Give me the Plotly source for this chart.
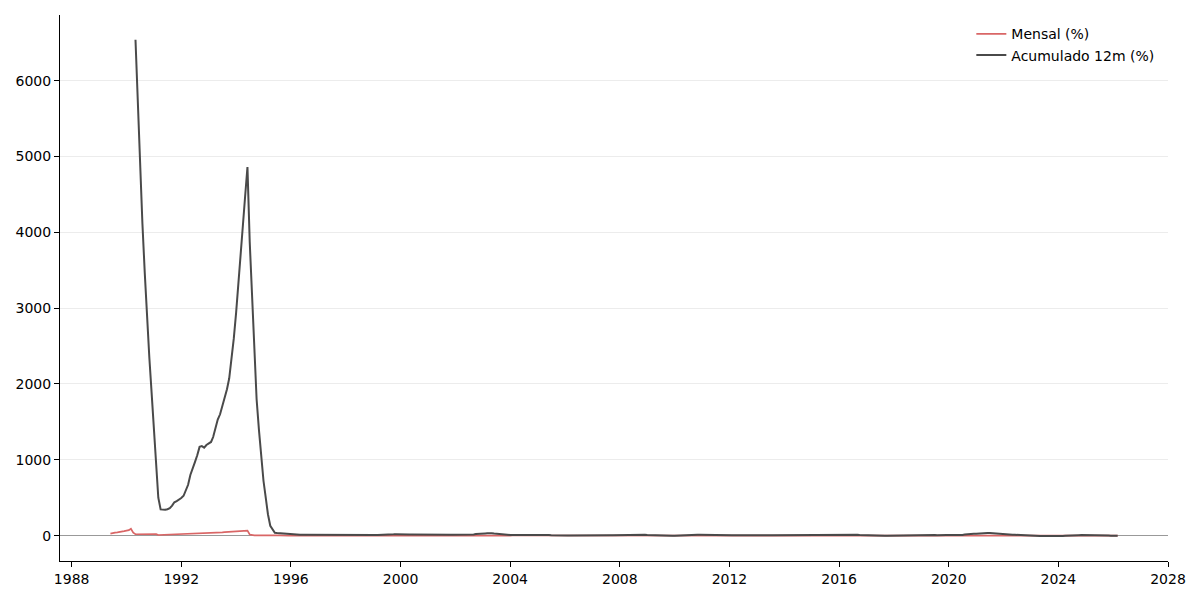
import pandas as pd
import plotly.graph_objects as go

# IGP-M: variacao mensal (%) e acumulado em 12 meses (%)
inicio_mensal = '1989-06-01'
inicio_12m = '1990-05-01'

mensal = [
    26, 36, 40, 42, 45, 50, 58,
    65, 72, 90, 40, 18, 18, 19, 19, 18, 19, 20, 20,
    20, 19, 8, 9, 10, 12, 14, 16, 17, 22, 23, 22,
    24, 25, 24, 25, 26, 27, 28, 29, 32, 33, 32, 33,
    34, 35, 36, 37, 39, 41, 43, 45, 48, 50, 52, 54,
    56, 58, 60, 62, 64, 66, 15, 4, 2, 2, 3, 1,
    1.4, 1.1, 1.9, 2.1, 0.4, 2.5, 1.8, 2.2, -0.7, 0.5, 1.1, 0.7,
    1.7, 0.9, 0.4, 0.3, 1.5, 1.1, 1.5, 0.3, 0.1, 0.2, 0.3, 0.9,
    1.8, 0.4, 1.2, 0.7, 0.2, 0.7, 0.1, 0.1, 0.6, 0.3, 0.8, 0.8,
    1.0, 0.2, 0.2, -0.1, 0.1, 0.3, -0.4, -0.2, -0.1, 0.0, -0.2, 1.0,
    0.8, 3.6, 2.8, 0.7, -0.3, 1.0, 1.6, 1.4, 1.5, 1.9, 2.5, 0.8,
    1.2, 0.4, 0.2, 0.1, 0.3, 0.9, 1.6, 2.4, 1.2, 0.4, 0.3, 0.6,
    0.6, 0.3, 0.6, 1.0, 0.4, 1.0, 1.5, 1.4, 0.4, 1.2, 1.1, 0.2,
    0.4, 0.2, 0.1, 0.7, 1.1, 1.5, 1.9, 2.3, 2.4, 3.9, 5.2, 3.8,
    2.3, 2.3, 1.5, 0.9, -0.3, -1.0, -0.4, 0.4, 1.2, 0.4, 0.5, 0.6,
    0.9, 1.1, 1.1, 1.2, 1.3, 1.4, 1.3, 1.2, 0.4, 0.4, 0.7, 0.7,
    0.4, 0.3, 0.9, 0.9, -0.2, -0.4, -0.3, -0.7, -0.5, 0.6, 0.4, 0.0,
    0.9, 0.0, -0.2, -0.4, 0.4, 0.8, 0.2, 0.4, 0.3, 0.5, 0.8, 0.3,
    0.5, 0.3, 0.3, 0.0, 0.0, 0.3, 0.3, 1.0, 1.3, 1.1, 0.7, 1.8,
    1.1, 0.5, 0.7, 0.7, 1.6, 2.0, 1.8, -0.3, 0.1, 1.0, 0.4, -0.1,
    -0.4, 0.3, -0.7, -0.2, -0.1, -0.1, -0.4, -0.4, 0.4, 0.1, 0.1, -0.3,
    0.6, 1.2, 0.9, 0.8, 1.2, 0.9, 0.2, 0.8, 1.1, 1.0, 1.5, 0.7,
    0.8, 1.0, 0.6, 0.5, 0.4, -0.2, -0.1, 0.4, 0.7, 0.5, 0.5, -0.1,
    0.3, -0.1, 0.4, 0.9, 1.0, 0.7, 1.3, 1.4, 1.0, 0.0, 0.0, 0.7,
    0.3, 0.3, 0.2, 0.2, 0.0, 0.8, 0.3, 0.2, 1.5, 0.9, 0.3, 0.6,
    0.5, 0.4, 1.7, 0.8, -0.1, -0.7, -0.6, -0.3, 0.2, 0.3, 1.0, 0.6,
    0.8, 0.3, 1.0, 1.2, 0.4, 0.7, 0.7, 0.3, 1.0, 1.9, 1.5, 0.5,
    1.1, 1.3, 0.5, 0.3, 0.8, 1.7, 0.2, 0.2, 0.2, 0.2, 0.0, 0.5,
    0.6, 0.1, 0.0, -1.1, -0.9, -0.7, -0.7, 0.1, 0.5, 0.2, 0.5, 0.9,
    0.8, 0.1, 0.6, 0.6, 1.4, 1.9, 0.5, 0.7, 1.5, 0.9, -0.5, -1.1,
    0.0, 0.9, 1.3, 0.9, 0.5, 0.8, 0.4, -0.7, 0.0, 0.7, 0.3, 2.1,
    0.5, 0.0, 1.2, 0.8, 0.3, 1.6, 2.2, 2.7, 4.3, 3.2, 3.3, 1.0,
    2.6, 2.5, 2.9, 1.5, 4.1, 0.6, 0.8, 0.7, -0.6, 0.6, 0.0, 0.9,
    1.8, 1.8, 1.7, 1.4, 0.5, 0.6, 0.2, -0.7, -1.0, -1.0, -0.6, 0.5,
    0.2, -0.1, 0.1, -0.9, -1.8, -1.9, -0.7, -0.1, 0.4, 0.5, 0.6, 0.7,
    0.1, -0.5, -0.5, 0.3, 0.9, 0.8, 0.6, 0.3, 0.6, 1.5, 1.3, 0.9,
    0.3, 1.1, -0.3, 0.2, -0.5, -1.7, -0.8, 0.4, 0.4, -0.4, 0.3, 0.0,
    0.4, -0.7, 0.3,
]

acumulado_12m = [
    6539, 5700, 4800, 4120, 3475, 2840, 2355, 1895,
    1408, 880, 500, 345, 340, 340, 348, 362, 395, 440, 455, 470,
    495, 525, 590, 670, 800, 900, 970, 1060, 1170, 1180, 1160, 1195,
    1215, 1235, 1300, 1417, 1530, 1600, 1700, 1800, 1930, 2075, 2310, 2600,
    2940, 3300, 3700, 4090, 4476, 4860, 3877, 3128, 2371, 1798, 1395, 1026,
    720, 490, 282, 129, 78, 36, 33, 30, 27, 24, 20, 15,
    14, 12.5, 11, 10.5, 10.5, 11, 10.5, 9.5, 9.5, 9, 9, 9.2,
    8.5, 8.4, 8.5, 8.2, 7.8, 7.4, 7.0, 7.1, 7.1, 7.2, 7.6, 7.7,
    7.5, 7.0, 6.2, 5.2, 4.5, 4.0, 3.4, 2.9, 2.3, 1.8, 1.6, 1.8,
    2.8, 6.7, 8.8, 8.9, 8.1, 8.6, 10.2, 12.1, 13.4, 16.6, 19.1, 20.1,
    20.5, 17.9, 15.5, 15.1, 15.2, 15.6, 14.8, 15.6, 14.4, 12.5, 10.8, 10.0,
    9.8, 9.6, 9.6, 10.3, 10.3, 10.5, 10.9, 10.6, 10.7, 10.8, 10.4, 10.4,
    10.2, 9.8, 9.5, 9.3, 9.6, 10.4, 11.6, 13.2, 15.5, 19.6, 24.1, 25.3,
    26.4, 28.7, 30.4, 32.9, 30.4, 26.3, 22.5, 18.8, 14.7, 10.3, 8.6, 8.7,
    7.7, 7.6, 8.0, 9.4, 10.5, 11.5, 12.3, 12.0, 11.6, 11.7, 12.4, 12.4,
    11.8, 11.4, 11.1, 10.0, 8.8, 7.1, 5.7, 3.5, 2.3, 2.2, 1.8, 1.2,
    1.0, 0.4, 0.1, -0.1, 0.5, 1.1, 1.3, 3.0, 3.3, 3.3, 3.6, 3.8,
    3.9, 4.0, 4.2, 4.7, 4.4, 4.3, 4.3, 4.1, 4.7, 5.3, 6.0, 7.8,
    7.9, 8.4, 9.1, 10.0, 11.5, 13.4, 15.1, 13.6, 12.3, 12.2, 10.3, 9.8,
    8.1, 6.3, 4.8, 3.6, 1.6, -0.7, -1.6, -2.1, -1.8, -1.6, -1.5, -1.7,
    -0.7, 1.4, 2.8, 4.0, 5.7, 5.2, 5.8, 7.7, 8.8, 10.5, 10.3, 11.3,
    11.5, 11.3, 10.9, 10.6, 9.8, 8.6, 8.4, 7.4, 7.5, 6.9, 5.9, 5.1,
    4.5, 3.4, 3.2, 3.7, 4.3, 5.1, 6.7, 8.0, 8.1, 7.5, 6.9, 7.8,
    8.1, 8.4, 8.1, 7.3, 6.2, 6.3, 5.2, 3.9, 4.4, 5.3, 5.3, 5.5,
    5.6, 5.7, 7.3, 7.3, 6.2, 6.2, 5.3, 4.9, 3.5, 2.9, 3.3, 3.7,
    3.9, 3.9, 3.2, 3.5, 4.1, 5.6, 6.4, 7.6, 8.4, 10.1, 10.7, 10.5,
    10.9, 12.1, 11.6, 11.0, 11.1, 12.2, 11.7, 10.7, 10.7, 8.8, 7.0, 7.2,
    6.7, 5.4, 4.9, 3.4, 1.6, -0.8, -1.7, -1.7, -1.4, -1.4, -0.9, -0.5,
    -0.4, 0.2, 0.2, 1.9, 4.3, 6.9, 8.2, 8.9, 10.0, 10.8, 9.7, 7.5,
    6.7, 7.6, 8.3, 8.6, 7.6, 6.5, 6.4, 4.9, 3.4, 3.1, 4.0, 7.3,
    7.8, 6.8, 6.8, 6.7, 6.5, 7.3, 9.3, 13.0, 17.9, 20.9, 24.5, 23.1,
    25.7, 28.9, 31.1, 32.0, 37.0, 35.8, 33.8, 31.1, 24.9, 21.7, 17.9, 17.8,
    16.9, 16.1, 14.8, 14.7, 10.7, 10.7, 10.1, 8.6, 8.3, 6.5, 5.9, 5.5,
    3.8, 1.9, 0.2, -2.2, -4.5, -6.9, -7.7, -7.2, -5.9, -4.6, -3.5, -3.2,
    -3.3, -3.8, -4.3, -3.0, -0.3, 2.5, 3.8, 4.3, 4.5, 5.6, 6.3, 6.5,
    6.8, 8.4, 8.6, 8.5, 7.0, 4.4, 3.0, 2.9, 2.8, 1.3, -0.1, -1.1,
    -0.9, -0.8, -0.5,
]

datas_mensal = pd.date_range(inicio_mensal, periods=len(mensal), freq='MS')
datas_12m = pd.date_range(inicio_12m, periods=len(acumulado_12m), freq='MS')

fonte = dict(family='DejaVu Sans', size=14, color='#000000')

fig = go.Figure()
fig.add_trace(go.Scatter(
    x=datas_mensal, y=mensal, mode='lines', name='Mensal (%)',
    line=dict(color='#d96666', width=1.7),
))
fig.add_trace(go.Scatter(
    x=datas_12m, y=acumulado_12m, mode='lines', name='Acumulado 12m (%)',
    line=dict(color='#4a4a4a', width=2),
))

# the page body adds 8px on the left and top, so the margins make up for it
fig.update_layout(
    width=1200,
    height=600,
    plot_bgcolor='white',
    paper_bgcolor='white',
    font=fonte,
    margin=dict(l=52, r=40, t=7, b=47),
    showlegend=True,
    legend=dict(
        x=0.8225, y=0.994, xanchor='left', yanchor='top',
        bgcolor='rgba(0,0,0,0)', borderwidth=0, font=fonte,
    ),
    xaxis=dict(
        type='date',
        range=['1987-07-30', '2028-01-01'],
        tick0='1988-01-01', dtick='M48', tickformat='%Y',
        showgrid=False, zeroline=False,
        showline=True, linecolor='black', linewidth=1,
        ticks='outside', ticklen=5, tickcolor='black',
    ),
    yaxis=dict(
        range=[-335, 6866],
        tick0=0, dtick=1000, tickformat='d',
        showgrid=True, gridcolor='#ececec', gridwidth=1,
        zeroline=True, zerolinecolor='#999999', zerolinewidth=1,
        showline=True, linecolor='black', linewidth=1,
        ticks='outside', ticklen=5, tickcolor='black',
    ),
)

fig.write_html('out.html')
